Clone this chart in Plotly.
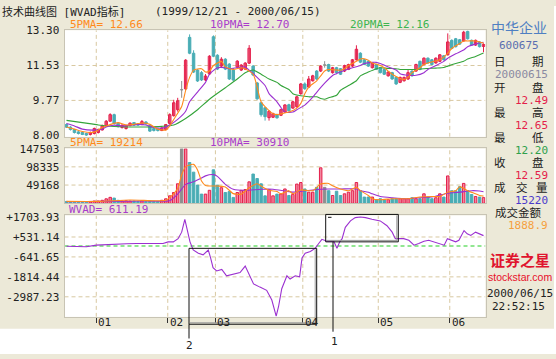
import plotly.graph_objects as go

W, H = 556, 359

# ---------------- data ----------------
month_labels = ['01', '02', '03', '04', '05', '06']
month_first_day = [8, 26, 38, 60, 79, 97]

open_ = [8.55, 8.42, 8.30, 8.18, 8.15, 8.10, 8.05, 8.10, 8.15, 8.28,
         8.50, 8.72, 9.05, 8.62, 8.40, 8.35, 8.50, 8.65, 8.58, 8.55,
         8.68, 8.50, 8.35, 8.32, 8.25, 8.30, 8.60, 9.00, 9.30, 10.30,
         10.35, 12.95, 12.15, 11.30, 11.17, 10.80, 11.10, 12.98, 12.05, 11.50,
         11.85, 11.60, 11.30, 11.45, 11.30, 11.35, 11.65, 11.50, 10.65, 9.65,
         9.40, 8.90, 8.92, 9.05, 9.02, 9.18, 9.55, 9.38, 9.45, 10.11,
         10.60, 10.44, 10.76, 11.25, 11.25, 11.55, 11.58, 11.17, 11.42, 11.37,
         11.25, 11.33, 11.50, 11.82, 12.15, 11.82, 11.74, 11.42, 11.58, 11.42,
         11.33, 11.01, 11.17, 10.93, 10.68, 10.76, 10.85, 11.25, 11.25, 11.74,
         11.58, 11.90, 11.82, 11.66, 11.74, 12.02, 12.07, 12.80, 12.88, 12.83,
         12.77, 13.25, 12.80, 12.56, 12.72, 12.49]
high_ = [8.60, 8.47, 8.33, 8.22, 8.20, 8.14, 8.20, 8.40, 8.35, 8.55,
         8.78, 9.12, 9.10, 8.66, 8.56, 8.55, 8.66, 8.68, 8.62, 8.78,
         8.72, 8.52, 8.38, 8.35, 8.42, 8.58, 9.12, 9.80, 9.90, 10.75,
         11.85, 13.10, 12.30, 11.35, 11.25, 11.10, 12.05, 13.05, 12.10, 11.95,
         11.90, 11.65, 11.40, 11.80, 11.60, 11.70, 12.56, 11.55, 10.70, 9.70,
         9.42, 9.28, 9.15, 9.10, 9.35, 9.58, 9.60, 9.75, 10.00, 10.65,
         10.68, 11.00, 11.06, 11.30, 11.55, 11.75, 11.62, 11.46, 11.46, 11.40,
         11.57, 11.62, 11.86, 12.55, 12.20, 11.86, 11.78, 11.70, 11.62, 11.46,
         11.37, 11.24, 11.21, 10.97, 10.97, 10.97, 11.30, 11.29, 11.62, 11.78,
         11.94, 11.94, 11.86, 11.94, 12.11, 12.06, 13.15, 12.85, 12.92, 12.87,
         13.28, 13.29, 12.84, 12.84, 12.76, 12.65]
low_ = [8.38, 8.25, 8.10, 8.05, 8.02, 7.98, 8.00, 8.05, 8.10, 8.25,
        8.45, 8.70, 8.55, 8.40, 8.35, 8.30, 8.46, 8.48, 8.48, 8.52,
        8.55, 8.18, 8.20, 8.20, 8.22, 8.26, 8.55, 8.95, 9.20, 9.90,
        10.30, 12.10, 11.15, 10.70, 10.75, 10.75, 11.05, 11.95, 11.30, 11.45,
        11.30, 10.80, 10.75, 11.40, 11.25, 11.30, 11.60, 11.00, 9.80, 8.95,
        8.75, 8.75, 8.88, 8.85, 8.98, 9.15, 9.20, 9.35, 9.40, 10.05,
        10.30, 10.40, 10.72, 10.80, 11.20, 11.42, 11.20, 11.12, 11.12, 11.05,
        11.20, 11.30, 11.45, 11.78, 11.65, 11.55, 11.46, 11.38, 11.30, 11.13,
        11.05, 10.97, 10.81, 10.55, 10.64, 10.72, 10.80, 10.97, 11.21, 11.29,
        11.54, 11.62, 11.54, 11.62, 11.70, 11.78, 12.03, 12.35, 12.44, 12.57,
        12.73, 12.84, 12.52, 12.52, 12.44, 12.20]
close_ = [8.42, 8.30, 8.15, 8.10, 8.05, 8.02, 8.15, 8.35, 8.30, 8.50,
          8.72, 9.05, 8.60, 8.45, 8.52, 8.50, 8.62, 8.52, 8.52, 8.70,
          8.58, 8.22, 8.25, 8.25, 8.38, 8.55, 9.05, 9.65, 9.75, 10.30,
          11.80, 12.15, 11.20, 10.75, 10.80, 11.00, 12.00, 12.00, 11.35, 11.85,
          11.35, 10.85, 10.80, 11.75, 11.55, 11.65, 12.40, 11.05, 9.85, 9.05,
          8.95, 9.22, 9.10, 8.89, 9.30, 9.54, 9.25, 9.70, 9.95, 10.60,
          10.36, 10.85, 11.01, 10.85, 11.50, 11.55, 11.25, 11.42, 11.17, 11.09,
          11.53, 11.58, 11.82, 12.35, 11.70, 11.58, 11.50, 11.66, 11.33, 11.17,
          11.09, 11.20, 10.85, 10.60, 10.93, 10.93, 11.17, 11.01, 11.58, 11.33,
          11.90, 11.66, 11.58, 11.90, 12.07, 11.82, 12.72, 12.39, 12.48, 12.61,
          13.21, 12.88, 12.56, 12.80, 12.48, 12.59]
volume = [5000, 4000, 3000, 3000, 2500, 3000, 4000, 6000, 6000, 8000,
          12000, 16000, 14000, 8000, 6000, 7000, 6000, 6000, 5000, 7000,
          5000, 6000, 5000, 5000, 8000, 12000, 20000, 29000, 52600, 147000,
          147000, 110000, 84000, 49000, 24700, 24700, 35000, 90400, 49000, 42000,
          29000, 31500, 15800, 29000, 35000, 37000, 57800, 78900, 66800, 52600,
          20000, 37000, 20000, 24700, 25000, 38600, 21000, 24000, 51800, 56000,
          38600, 29900, 29900, 43000, 95700, 43000, 34000, 21000, 32500, 21000,
          25500, 29900, 34000, 56000, 34000, 16700, 16700, 16700, 9700, 12300,
          9700, 9700, 12300, 12300, 12300, 12300, 12300, 14900, 12300, 12300,
          25500, 16700, 12300, 14900, 25500, 16700, 73800, 34000, 34000, 44800,
          53600, 34000, 23700, 18400, 16700, 15220]

ma5_day = [0, 2, 4, 7, 9, 10, 12, 13, 15, 17, 19, 21, 23, 25, 26, 27, 29, 30, 31, 32,
           34, 35, 36, 37, 39, 40, 42, 44, 45, 47, 48, 49, 51, 52, 53, 54, 56, 58, 59, 60,
           61, 63, 64, 65, 66, 68, 69, 70, 71, 73, 74, 75, 76, 77, 79, 80, 81, 82, 84, 85,
           86, 87, 89, 90, 91, 92, 94, 95, 96, 97, 99, 100, 101, 103, 104, 105]
ma5_val = [8.43, 8.32, 8.20, 8.17, 8.40, 8.48, 8.61, 8.65, 8.53, 8.56, 8.63, 8.56, 8.32, 8.27, 8.48, 8.81, 9.46, 10.28, 10.93, 11.30,
           11.37, 11.20, 11.25, 11.53, 11.74, 11.46, 11.33, 11.42, 11.37, 11.09, 10.44, 9.70, 9.25, 9.09, 9.05, 9.09, 9.18, 9.38, 9.62, 10.11,
           10.44, 10.76, 11.01, 11.25, 11.33, 11.30, 11.29, 11.37, 11.53, 11.74, 11.86, 11.87, 11.79, 11.66, 11.53, 11.42, 11.25, 11.09, 10.88, 10.81,
           10.93, 11.17, 11.42, 11.58, 11.66, 11.71, 11.82, 11.95, 12.15, 12.39, 12.64, 12.77, 12.77, 12.77, 12.72, 12.66]

ma10_day = [0, 2, 4, 7, 9, 10, 12, 14, 16, 18, 20, 22, 24, 26, 28, 30, 31, 33, 35, 36,
            38, 40, 41, 43, 45, 46, 48, 50, 51, 53, 54, 55, 57, 58, 60, 62, 63, 65, 67, 68,
            70, 72, 74, 75, 77, 78, 79, 81, 83, 84, 86, 88, 90, 91, 93, 95, 96, 98, 100, 101,
            103, 105]
ma10_val = [8.60, 8.48, 8.32, 8.27, 8.32, 8.43, 8.52, 8.48, 8.52, 8.56, 8.53, 8.40, 8.37, 8.53, 8.81, 9.22, 9.70, 10.19, 10.68, 11.09,
            11.42, 11.42, 11.37, 11.42, 11.46, 11.30, 10.93, 10.52, 10.11, 9.70, 9.41, 9.18, 9.18, 9.30, 9.53, 9.93, 10.18, 10.64, 11.03, 11.12,
            11.29, 11.42, 11.53, 11.63, 11.69, 11.69, 11.63, 11.46, 11.30, 11.12, 11.04, 11.04, 11.17, 11.33, 11.53, 11.74, 11.90, 12.12, 12.31, 12.48,
            12.61, 12.70]

ma20_day = [0, 4, 8, 12, 16, 20, 24, 27, 30, 33, 36, 40, 43, 45, 47, 49, 51, 53, 54, 56,
            57, 59, 61, 63, 64, 65, 66, 68, 69, 71, 73, 74, 76, 78, 79, 81, 83, 84, 86, 88,
            90, 91, 93, 95, 96, 98, 100, 101, 103, 105]
ma20_val = [8.76, 8.65, 8.53, 8.45, 8.43, 8.43, 8.46, 8.53, 8.86, 9.30, 9.83, 10.41, 10.85, 11.17, 11.30, 11.09, 10.85, 10.68, 10.52, 10.32,
            10.11, 10.00, 9.95, 9.95, 9.87, 9.83, 9.90, 10.03, 10.28, 10.52, 10.76, 11.01, 11.20, 11.37, 11.42, 11.38, 11.37, 11.33, 11.33, 11.33,
            11.37, 11.38, 11.40, 11.43, 11.50, 11.63, 11.74, 11.86, 11.99, 12.16]

vol_ma5_day = [0, 8, 16, 22, 25, 26, 28, 29, 30, 32, 33, 34, 35, 38, 40, 42, 44, 46, 48, 49,
               51, 53, 54, 56, 57, 59, 61, 62, 64, 66, 67, 69, 71, 73, 74, 76, 77, 79, 82, 86,
               89, 92, 94, 96, 98, 99, 101, 103, 104, 105]
vol_ma5_val = [5000, 5000, 9000, 7000, 8000, 15800, 40000, 77000, 99000, 105000, 90000, 60000, 48000, 46500, 44000, 26000, 24700, 42000, 52600, 46500,
               35000, 31500, 25500, 34000, 25500, 36000, 34000, 34000, 51800, 53600, 47000, 38600, 34000, 43000, 34000, 21000, 12300, 9700, 12300, 12300,
               16700, 18400, 18400, 30000, 34000, 44800, 34000, 25500, 21000, 19214]

vol_ma10_day = [0, 10, 20, 26, 28, 30, 32, 34, 35, 37, 38, 40, 42, 45, 49, 52, 55, 57, 59, 62,
                66, 69, 73, 74, 76, 77, 79, 82, 86, 89, 92, 96, 99, 102, 104, 105]
vol_ma10_val = [4000, 5000, 6000, 7000, 24700, 51000, 57800, 68000, 74000, 77300, 72500, 51000, 37800, 35000, 37800, 37800, 33000, 30000, 32000, 36000,
                38600, 38600, 38600, 34000, 30000, 25500, 18400, 15000, 12300, 15000, 16700, 27200, 30000, 34000, 33000, 30910]

wvad_day = [0, 2.5, 5, 7.5, 10, 12.6, 15.1, 17.6, 20.1, 22.7, 24.3, 25.6, 26.9, 28.1, 29, 29.8, 30.4, 31.1, 31.9, 33.2,
            34.4, 35.3, 35.7, 36.3, 36.9, 37.8, 39.1, 40.3, 42, 43.7, 45, 45.8, 47.1, 48.7, 50.4, 51.7, 52.8, 53.4, 54.2, 55.5,
            56.3, 57.6, 58.7, 59.3, 60.1, 61.4, 62.6, 63.5, 64.3, 65.6, 67.3, 68.1, 68.8, 69.4, 70.2, 71.5, 72.7, 74, 75.3, 76.9,
            79, 80.7, 82, 82.8, 83.7, 84.9, 86.2, 87.5, 88.7, 90, 91.2, 92.5, 94.2, 95.1, 95.9, 97.2, 98, 98.8, 100.1, 100.9,
            101.8, 103, 103.9, 105]
wvad_val = [-10, -40, -40, 51, 91, 131, 131, 148, 148, 131, 148, 245, 245, 433, 815, 1574, 1004, 245, -234, -422,
            -519, -325, -234, -707, -1277, -1465, -1374, -1751, -1659, -1562, -1180, -1562, -2230, -2418, -2606, -3176, -4128, -3558, -2515, -1751,
            -1944, -1751, -1808, -707, -422, -325, -137, 148, 393, 279, 279, -137, 245, 433, 1100, 1477, 1671, 1703.93, 1671, 1574,
            1477, 1192, 815, 433, 433, 433, 336, 51, 148, 279, 336, 245, 148, 51, 433, 336, 245, 336, 907, 718,
            622, 815, 718, 611.19]

price_ticks = [13.30, 11.53, 9.77, 8.00]
vol_ticks = [147503, 98335, 49168]
wvad_ticks = [1703.93, 531.14, -641.65, -1814.44, -2987.23]
wvad_ticktext = ['+1703.93', '+531.14', '-641.65', '-1814.44', '-2987.23']

# ---------------- styling ----------------
BEIGE = '#ECE9D8'
RED = '#E41E4A'
PINK = '#F2879F'
TEAL = '#4AADB5'
GRAY = '#8E8E8E'
ORANGE = '#FF8A1C'
PURPLE = '#9B30D0'
GREEN = '#34A43A'
GRID = '#D8C8A0'
MONO = 'DejaVu Sans Mono, Noto Sans CJK SC, monospace'
CJK = 'Noto Sans CJK SC, DejaVu Sans Mono'

PRICE_RANGE = [7.93, 13.31]
VOL_RANGE = [0, 147900]
WVAD_RANGE = [-4168, 1802]


def fx(p):
    return p / W


def fy(p):
    return 1 - p / H


N = len(close_)
days = list(range(N))
XR = [-0.5, N - 0.5]


def kind(i):
    if close_[i] > open_[i]:
        return 'up'
    if close_[i] < open_[i]:
        return 'down'
    return 'flat'


line_col = {'up': RED, 'down': TEAL, 'flat': GRAY}
fill_col = {'up': PINK, 'down': TEAL, 'flat': GRAY}

fig = go.Figure()

# candle wicks
for k in ['up', 'down', 'flat']:
    wx, wy = [], []
    for i in days:
        if kind(i) == k:
            wx += [i, i, None]
            wy += [low_[i], high_[i], None]
    fig.add_trace(go.Scatter(x=wx, y=wy, mode='lines', line=dict(color=line_col[k], width=1),
                             xaxis='x', yaxis='y', hoverinfo='skip'))
# candle bodies
for k in ['up', 'down', 'flat']:
    idx = [i for i in days if kind(i) == k]
    fig.add_trace(go.Bar(x=idx,
                         base=[min(open_[i], close_[i]) for i in idx],
                         y=[max(abs(close_[i] - open_[i]), 0.012) for i in idx],
                         width=0.62,
                         marker=dict(color=fill_col[k], line=dict(color=line_col[k], width=1)),
                         xaxis='x', yaxis='y', hoverinfo='skip'))

# price moving averages
for dd, vv, c in [(ma20_day, ma20_val, GREEN), (ma10_day, ma10_val, PURPLE), (ma5_day, ma5_val, ORANGE)]:
    fig.add_trace(go.Scatter(x=dd, y=vv, mode='lines', line=dict(color=c, width=1.1, shape='spline', smoothing=0.6),
                             xaxis='x', yaxis='y', hoverinfo='skip'))

# volume bars
for k in ['up', 'down', 'flat']:
    idx = [i for i in days if kind(i) == k]
    fig.add_trace(go.Bar(x=idx, y=[volume[i] for i in idx], width=0.62,
                         marker=dict(color=fill_col[k], line=dict(color=line_col[k], width=1)),
                         xaxis='x2', yaxis='y2', hoverinfo='skip'))
for dd, vv, c in [(vol_ma10_day, vol_ma10_val, PURPLE), (vol_ma5_day, vol_ma5_val, ORANGE)]:
    fig.add_trace(go.Scatter(x=dd, y=vv, mode='lines', line=dict(color=c, width=1.1, shape='spline', smoothing=0.6),
                             xaxis='x2', yaxis='y2', hoverinfo='skip'))

# WVAD
fig.add_trace(go.Scatter(x=wvad_day, y=wvad_val, mode='lines', line=dict(color=PURPLE, width=1.1),
                         xaxis='x3', yaxis='y3', hoverinfo='skip'))

# ---------------- axes ----------------
xdom = [fx(64.5), fx(485.5)]
boundaries = [d - 0.5 for d in month_first_day]
tickfont = dict(family=MONO, size=11, color='#222222')
border = '#C8C4B4'

xcommon = dict(domain=xdom, range=XR, showgrid=False, zeroline=False,
               showline=True, mirror=True, linecolor=border, linewidth=1, fixedrange=True)
ycommon = dict(showgrid=False, zeroline=False, showline=True, mirror=True, linecolor=border,
               linewidth=1, tickfont=tickfont, ticks='', ticklabelstandoff=2, fixedrange=True)

fig.update_layout(
    width=W, height=H, margin=dict(l=0, r=0, t=0, b=0),
    paper_bgcolor=BEIGE, plot_bgcolor='white', showlegend=False, barmode='overlay',
    xaxis=dict(**xcommon, anchor='y', showticklabels=False, ticks=''),
    xaxis2=dict(**xcommon, anchor='y2', showticklabels=False, ticks=''),
    xaxis3=dict(**xcommon, anchor='y3', showticklabels=False, ticks='outside', ticklen=5,
                tickcolor='#333333', tickvals=boundaries),
    yaxis=dict(**ycommon, domain=[fy(135), fy(25)], range=PRICE_RANGE, anchor='x',
               tickvals=price_ticks, ticktext=[f'{v:.2f}' for v in price_ticks]),
    yaxis2=dict(**ycommon, domain=[fy(203.5), fy(147)], range=VOL_RANGE, anchor='x2',
                tickvals=vol_ticks, ticktext=[str(v) for v in vol_ticks]),
    yaxis3=dict(**ycommon, domain=[fy(320.7), fy(216)], range=WVAD_RANGE, anchor='x3',
                tickvals=wvad_ticks, ticktext=wvad_ticktext),
)

shapes = []
dash = '4px,3px'
# white strip outside the window
shapes.append(dict(type='rect', xref='paper', yref='paper', x0=0, x1=1, y0=0, y1=fy(333),
                   fillcolor='white', line=dict(width=0), layer='below'))
shapes.append(dict(type='rect', xref='paper', yref='paper', x0=fx(554), x1=1, y0=0, y1=1,
                   fillcolor='white', line=dict(width=0), layer='below'))
# gridlines (data coordinates)
for xa, ya, vals, yr in [('x', 'y', price_ticks[1:3], PRICE_RANGE),
                         ('x2', 'y2', vol_ticks[1:], VOL_RANGE),
                         ('x3', 'y3', wvad_ticks[1:], WVAD_RANGE)]:
    for v in vals:
        shapes.append(dict(type='line', xref=xa, yref=ya, x0=XR[0], x1=XR[1], y0=v, y1=v,
                           line=dict(color=GRID, width=1, dash=dash), layer='below'))
    for b in boundaries:
        shapes.append(dict(type='line', xref=xa, yref=ya, x0=b, x1=b, y0=yr[0], y1=yr[1],
                           line=dict(color=GRID, width=1, dash=dash), layer='below'))
# zero line of WVAD
shapes.append(dict(type='line', xref='x3', yref='y3', x0=XR[0], x1=XR[1], y0=0, y1=0,
                   line=dict(color='#6EE06E', width=1.5, dash=dash), layer='below'))

# call-out boxes (pixel positions of the hand-drawn marks)
callout_boxes = [(189, 250, 316.7, 328.3), (325.7, 215, 398.3, 243.3)]
callout_leads = [(189, 328.3, 343), (333, 243.3, 336)]
for (x0, y0, x1, y1) in callout_boxes:
    shapes.append(dict(type='line', xref='paper', yref='paper', x0=fx(x1 - 1.5), x1=fx(x1 - 1.5),
                       y0=fy(y0 + 1), y1=fy(y1 - 1), line=dict(color='#9A9A9A', width=1)))
    shapes.append(dict(type='line', xref='paper', yref='paper', x0=fx(x0 + 1), x1=fx(x1 - 1),
                       y0=fy(y1 - 1.5), y1=fy(y1 - 1.5), line=dict(color='#9A9A9A', width=1)))
    shapes.append(dict(type='rect', xref='paper', yref='paper', x0=fx(x0), x1=fx(x1),
                       y0=fy(y1), y1=fy(y0), line=dict(color='#111111', width=1)))
for (x, y0, y1) in callout_leads:
    shapes.append(dict(type='line', xref='paper', yref='paper', x0=fx(x), x1=fx(x),
                       y0=fy(y0), y1=fy(y1), line=dict(color='#111111', width=1)))
shapes.append(dict(type='line', xref='paper', yref='paper', x0=fx(328), x1=fx(331.5),
                   y0=fy(218), y1=fy(218), line=dict(color='#111111', width=1)))
fig.update_layout(shapes=shapes)

# ---------------- texts ----------------
ann = []


def txt(text, x, y, color='#222222', size=11, family=MONO, xanchor='left'):
    ann.append(dict(text=text, x=fx(x), y=fy(y), xref='paper', yref='paper', showarrow=False,
                    xanchor=xanchor, yanchor='middle', borderpad=0,
                    font=dict(family=family, size=size, color=color)))


txt('技术曲线图 [WVAD指标]', 1, 6)
txt('(1999/12/21 - 2000/06/15)', 154, 6)
txt(f'5PMA= {ma5_val[-1]:.2f}', 69, 19, ORANGE)
txt(f'10PMA= {ma10_val[-1]:.2f}', 209, 19, '#A83CCB')
txt(f'20PMA= {ma20_val[-1]:.2f}', 349, 19, '#3CB450')
txt(f'5PMA= {vol_ma5_val[-1]}', 69, 141, ORANGE)
txt(f'10PMA= {vol_ma10_val[-1]}', 209, 141, '#A83CCB')
txt(f'WVAD= {wvad_val[-1]:.2f}', 68, 210, '#A83CCB')
txt('2', 189, 350, xanchor='center')
txt('1', 334, 346, xanchor='center')

for lab, d in zip(month_labels, month_first_day):
    ann.append(dict(text=lab, x=d - 0.5, y=fy(327), xref='x3', yref='paper', showarrow=False,
                    xanchor='left', yanchor='middle', xshift=1, borderpad=0, font=tickfont))

# side panel
txt('中华企业', 519, 22, '#4F7FC2', 14, CJK, 'center')
txt('600675', 519, 41, '#5A6EB0', 11, MONO, 'center')
for (a, b, y) in [('日', '期', 58), ('开', '盘', 84.5), ('最', '高', 110.5), ('最', '低', 136.5), ('收', '盘', 162)]:
    txt(a, 500, y, '#222222', 11.5, MONO, 'center')
    txt(b, 538, y, '#222222', 11.5, MONO, 'center')
txt('20000615', 521, 71, '#8A8AA2', 11, MONO, 'center')
txt(f'{open_[-1]:.2f}', 549, 97, RED, 11, MONO, 'right')
txt(f'{high_[-1]:.2f}', 549, 123.5, RED, 11, MONO, 'right')
txt(f'{low_[-1]:.2f}', 549, 149.5, '#2FA04C', 11, MONO, 'right')
txt(f'{close_[-1]:.2f}', 549, 175, RED, 11, MONO, 'right')
txt('成', 500, 187.5, '#222222', 11.5, MONO, 'center')
txt('交', 522, 187.5, '#222222', 11.5, MONO, 'center')
txt('量', 542, 187.5, '#222222', 11.5, MONO, 'center')
txt(f'{volume[-1]}', 549, 201, '#4B3BCB', 11, MONO, 'right')
txt('成交金额', 494, 214, '#222222', 11.5, MONO, 'left')
txt('1888.9', 549, 226.5, '#F5A040', 11, MONO, 'right')
txt('<b>证券之星</b>', 520, 262, '#E0142E', 15, CJK, 'center')
txt('stockstar.com', 520, 280, '#E8102A', 10.5, 'Liberation Sans, Arial', 'center')
txt('2000/06/15', 520, 297, '#222222', 11, MONO, 'center')
txt('22:52:15', 518, 309.5, '#222222', 11, MONO, 'center')

fig.update_layout(annotations=ann)

fig.write_html('out.html', config={'displayModeBar': False},
               post_script="document.body.style.margin='0';document.body.style.padding='0';")
